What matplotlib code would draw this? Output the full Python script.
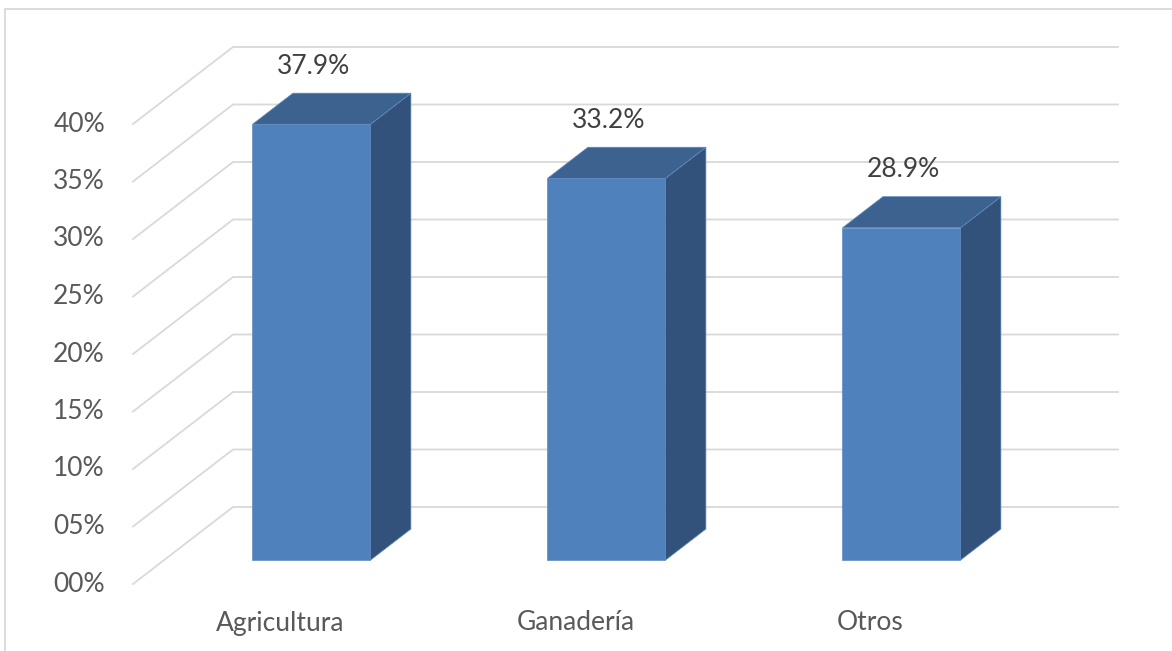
#!/usr/bin/env python3
from matplotlib import pyplot as plt
from matplotlib.patches import Polygon, Rectangle

# Excel style 3D column chart, drawn as an oblique projection on a 2D axes

categories = ["Agricultura", "Ganadería", "Otros"]
values = [37.9, 33.2, 28.9]
y_ticks = [0, 5, 10, 15, 20, 25, 30, 35, 40]

# projection (pixels per unit, floor origin, depth vector)
PX_CAT = 295
PX_PCT = 11.5
ORIGIN = (133, 584)
DX = 100 / PX_CAT          # full depth, in category units
DY = 77 / PX_PCT           # full depth, in percent units
D_FRONT, D_BACK = 0.31, 0.714
HALF_W = 0.2

FRONT = "#4f81bd"
TOP = "#3c6390"
SIDE = "#32527b"
GRID = "#d9d9d9"
FS = 19

plt.rcParams['font.family'] = ['Lato', 'DejaVu Sans']


def main():
    w, h = 1172, 651
    fig = plt.figure(figsize=(w / 100, h / 100), dpi=100)
    ax = fig.add_axes([0, 0, 1, 1])
    ax.set_xlim(-ORIGIN[0] / PX_CAT, (w - ORIGIN[0]) / PX_CAT)
    ax.set_ylim((ORIGIN[1] - h) / PX_PCT, ORIGIN[1] / PX_PCT)
    ax.axis("off")

    # chart border
    fig.patches.append(Rectangle((5 / w, -0.1), 1.2, 1 - 9 / h + 0.1, transform=fig.transFigure,
                                 fill=False, edgecolor=GRID, lw=1.3))

    n = len(categories)
    for t in y_ticks:
        ax.plot([0, DX, n + DX], [t, t + DY, t + DY], color=GRID, lw=1.3, zorder=1)
        ax.annotate(f"{t:02d}%", xy=(0, t), xytext=(-28, 0), textcoords="offset pixels",
                    ha="right", va="center", fontsize=FS, color="#595959")

    for i, (cat, v) in enumerate(zip(categories, values)):
        c = i + 0.5
        x0 = c - HALF_W + D_FRONT * DX
        x1 = c + HALF_W + D_FRONT * DX
        y0 = D_FRONT * DY
        ddx = (D_BACK - D_FRONT) * DX
        ddy = (D_BACK - D_FRONT) * DY
        front = Polygon([(x0, y0), (x1, y0), (x1, y0 + v), (x0, y0 + v)])
        side = Polygon([(x1, y0), (x1 + ddx, y0 + ddy), (x1 + ddx, y0 + ddy + v), (x1, y0 + v)])
        top = Polygon([(x0, y0 + v), (x1, y0 + v), (x1 + ddx, y0 + ddy + v), (x0 + ddx, y0 + ddy + v)])
        for poly, col in ((front, FRONT), (side, SIDE), (top, TOP)):
            poly.set_facecolor(col)
            poly.set_edgecolor("#5f8bc2")
            poly.set_linewidth(0.5)
            poly.set_zorder(3)
            ax.add_patch(poly)

        ax.annotate(f"{v:.1f}%", xy=(c + D_FRONT * DX, y0 + v), xytext=(2, 58),
                    textcoords="offset pixels", ha="center", va="center",
                    fontsize=FS, color="#404040")
        ax.annotate(cat, xy=(c, 0), xytext=(0, -39), textcoords="offset pixels",
                    ha="center", va="center", fontsize=FS, color="#595959")

    fig.savefig("out.png", dpi=100)


if __name__ == "__main__":
    main()
